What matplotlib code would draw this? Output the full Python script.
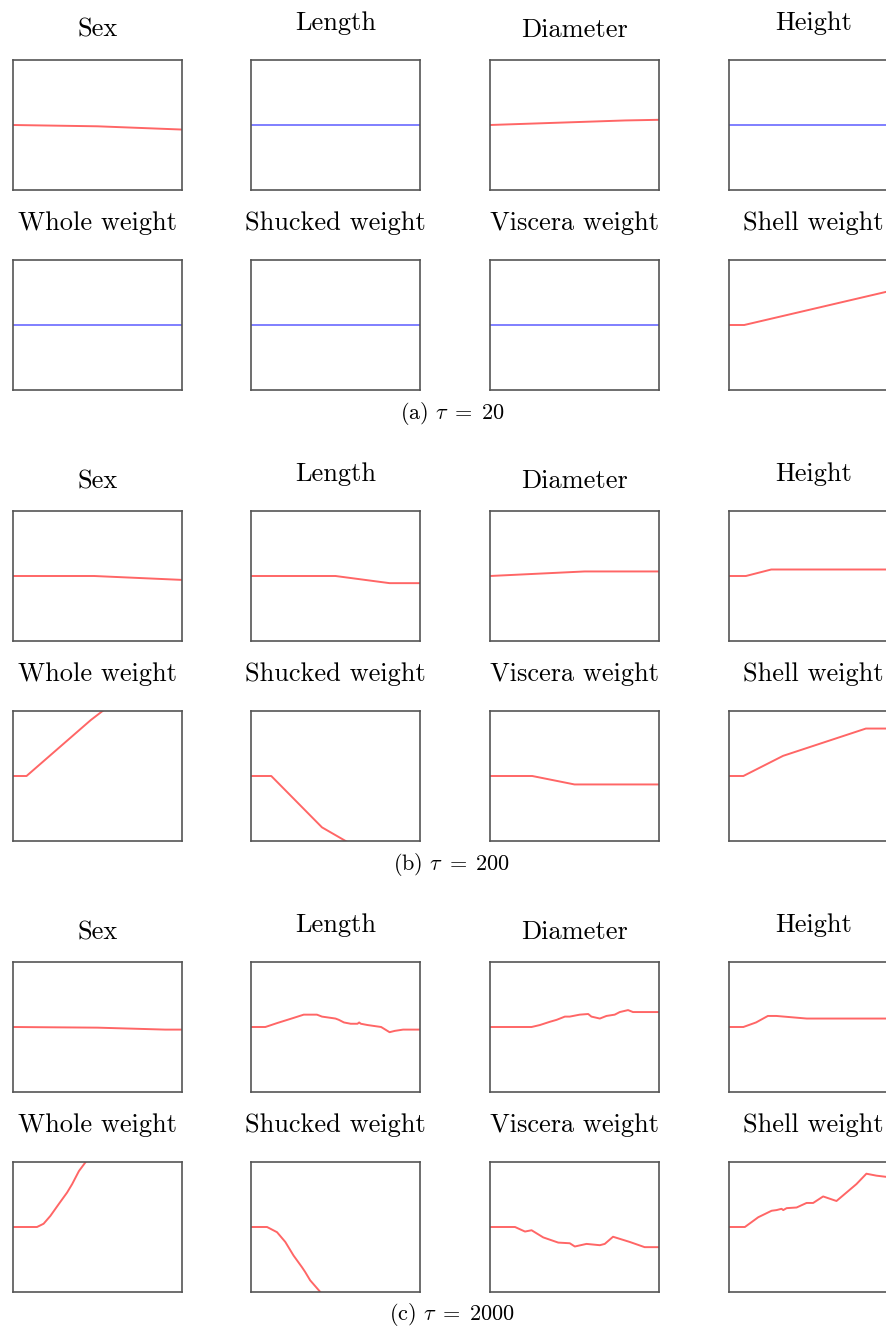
import matplotlib
matplotlib.use("Agg")
import matplotlib.pyplot as plt

plt.rcParams['font.family'] = ['cmr10', 'DejaVu Serif']
plt.rcParams['mathtext.fontset'] = 'cm'
plt.rcParams['axes.unicode_minus'] = False

features = ['Sex', 'Length', 'Diameter', 'Height',
            'Whole weight', 'Shucked weight', 'Viscera weight', 'Shell weight']
taus = [20, 200, 2000]
captions = ['(a) $\\tau\\;=\\;20$', '(b) $\\tau\\;=\\;200$', '(c) $\\tau\\;=\\;2000$']

# flat (unused feature) curve
flat_x = [0, 1]
flat_y = [0, 0]

# tau = 20
t20_sex_x = [0, 0.5, 1.0]
t20_sex_y = [0, -0.02, -0.07]
t20_diam_x = [0, 0.8, 1.0]
t20_diam_y = [0, 0.07, 0.08]
t20_shell_x = [0, 0.09, 0.93, 1.0]
t20_shell_y = [0, 0, 0.51, 0.53]

# tau = 200
t200_sex_x = [0, 0.48, 1.0]
t200_sex_y = [0, 0, -0.06]
t200_len_x = [0, 0.5, 0.82, 1.0]
t200_len_y = [0, 0, -0.11, -0.11]
t200_diam_x = [0, 0.56, 1.0]
t200_diam_y = [0, 0.07, 0.07]
t200_height_x = [0, 0.1, 0.25, 1.0]
t200_height_y = [0, 0, 0.1, 0.1]
t200_whole_x = [0, 0.08, 0.46, 0.53, 0.6]
t200_whole_y = [0, 0, 0.86, 1.0, 1.14]
t200_shuck_x = [0, 0.12, 0.42, 0.56, 0.65]
t200_shuck_y = [0, 0, -0.79, -1.0, -1.13]
t200_visc_x = [0, 0.25, 0.5, 1.0]
t200_visc_y = [0, 0, -0.13, -0.13]
t200_shell_x = [0, 0.085, 0.32, 0.81, 1.0]
t200_shell_y = [0, 0, 0.31, 0.73, 0.73]

# tau = 2000
t2000_sex_x = [0, 0.5, 0.9, 1.0]
t2000_sex_y = [0, -0.01, -0.04, -0.04]
t2000_len_x = [0, 0.085, 0.154, 0.252, 0.312, 0.39, 0.42, 0.50, 0.52, 0.55, 0.59,
               0.63, 0.64, 0.65, 0.69, 0.77, 0.82, 0.85, 0.90, 1.0]
t2000_len_y = [0, 0, 0.06, 0.14, 0.19, 0.19, 0.16, 0.13, 0.11, 0.07, 0.05,
               0.05, 0.07, 0.05, 0.03, 0.0, -0.08, -0.06, -0.04, -0.04]
t2000_diam_x = [0, 0.246, 0.295, 0.354, 0.394, 0.443, 0.472, 0.531, 0.581, 0.600,
                0.650, 0.689, 0.738, 0.768, 0.817, 0.846, 1.0]
t2000_diam_y = [0, 0, 0.03, 0.08, 0.11, 0.16, 0.16, 0.19, 0.20, 0.16,
                0.13, 0.17, 0.19, 0.23, 0.26, 0.23, 0.23]
t2000_height_x = [0, 0.085, 0.16, 0.23, 0.28, 0.46, 1.0]
t2000_height_y = [0, 0, 0.07, 0.17, 0.17, 0.13, 0.13]
t2000_whole_x = [0, 0.142, 0.181, 0.221, 0.27, 0.32, 0.35, 0.39, 0.43, 0.47]
t2000_whole_y = [0, 0, 0.05, 0.17, 0.35, 0.53, 0.66, 0.86, 1.0, 1.2]
t2000_shuck_x = [0, 0.095, 0.154, 0.203, 0.252, 0.302, 0.32, 0.35, 0.41, 0.45]
t2000_shuck_y = [0, 0, -0.08, -0.23, -0.44, -0.62, -0.69, -0.82, -1.0, -1.2]
t2000_visc_x = [0, 0.148, 0.207, 0.246, 0.315, 0.404, 0.472, 0.502, 0.571, 0.65,
                0.679, 0.728, 0.827, 0.915, 1.0]
t2000_visc_y = [0, 0, -0.07, -0.05, -0.16, -0.24, -0.25, -0.30, -0.26, -0.28,
                -0.26, -0.15, -0.23, -0.31, -0.31]
t2000_shell_x = [0, 0.094, 0.173, 0.252, 0.281, 0.311, 0.321, 0.341, 0.400, 0.459,
                 0.498, 0.557, 0.636, 0.754, 0.813, 0.872, 0.935, 1.0]
t2000_shell_y = [0, 0, 0.15, 0.25, 0.26, 0.28, 0.26, 0.29, 0.30, 0.37,
                 0.37, 0.47, 0.40, 0.66, 0.82, 0.79, 0.77, 0.77]

RED, BLUE = 'red', 'blue'
curves = {
    20: [(t20_sex_x, t20_sex_y, RED), (flat_x, flat_y, BLUE),
         (t20_diam_x, t20_diam_y, RED), (flat_x, flat_y, BLUE),
         (flat_x, flat_y, BLUE), (flat_x, flat_y, BLUE),
         (flat_x, flat_y, BLUE), (t20_shell_x, t20_shell_y, RED)],
    200: [(t200_sex_x, t200_sex_y, RED), (t200_len_x, t200_len_y, RED),
          (t200_diam_x, t200_diam_y, RED), (t200_height_x, t200_height_y, RED),
          (t200_whole_x, t200_whole_y, RED), (t200_shuck_x, t200_shuck_y, RED),
          (t200_visc_x, t200_visc_y, RED), (t200_shell_x, t200_shell_y, RED)],
    2000: [(t2000_sex_x, t2000_sex_y, RED), (t2000_len_x, t2000_len_y, RED),
           (t2000_diam_x, t2000_diam_y, RED), (t2000_height_x, t2000_height_y, RED),
           (t2000_whole_x, t2000_whole_y, RED), (t2000_shuck_x, t2000_shuck_y, RED),
           (t2000_visc_x, t2000_visc_y, RED), (t2000_shell_x, t2000_shell_y, RED)],
}

W, H = 887, 1330
fig = plt.figure(figsize=(W / 100, H / 100), dpi=100)

col_left = [13, 251, 490, 729]   # px
box_w, box_h = 169, 130
panel_top = [60, 511, 962]
row_gap = 200

for p, tau in enumerate(taus):
    for i, name in enumerate(features):
        r, c = divmod(i, 4)
        top = panel_top[p] + r * row_gap
        ax = fig.add_axes([col_left[c] / W, 1 - (top + box_h) / H, box_w / W, box_h / H])
        x, y, color = curves[tau][i]
        alpha = 0.6 if color == RED else 0.5
        ax.plot(x, y, color=color, alpha=alpha, lw=1.4)
        ax.set_xlim(0, 1)
        ax.set_ylim(-1, 1)
        ax.set_xticks([])
        ax.set_yticks([])
        for s in ax.spines.values():
            s.set_color('#555555')
            s.set_linewidth(1.2)
        # words with descenders sit higher, as in the original
        lift = 30 if any(ch in name for ch in 'gjpqy') else 23
        ax.set_title(name, fontsize=19, va='baseline', pad=lift * 0.72)
    fig.text(452 / W, 1 - (panel_top[p] + row_gap + box_h + 23) / H, captions[p],
             ha='center', va='center', fontsize=16)

fig.savefig('out.png', dpi=100)
